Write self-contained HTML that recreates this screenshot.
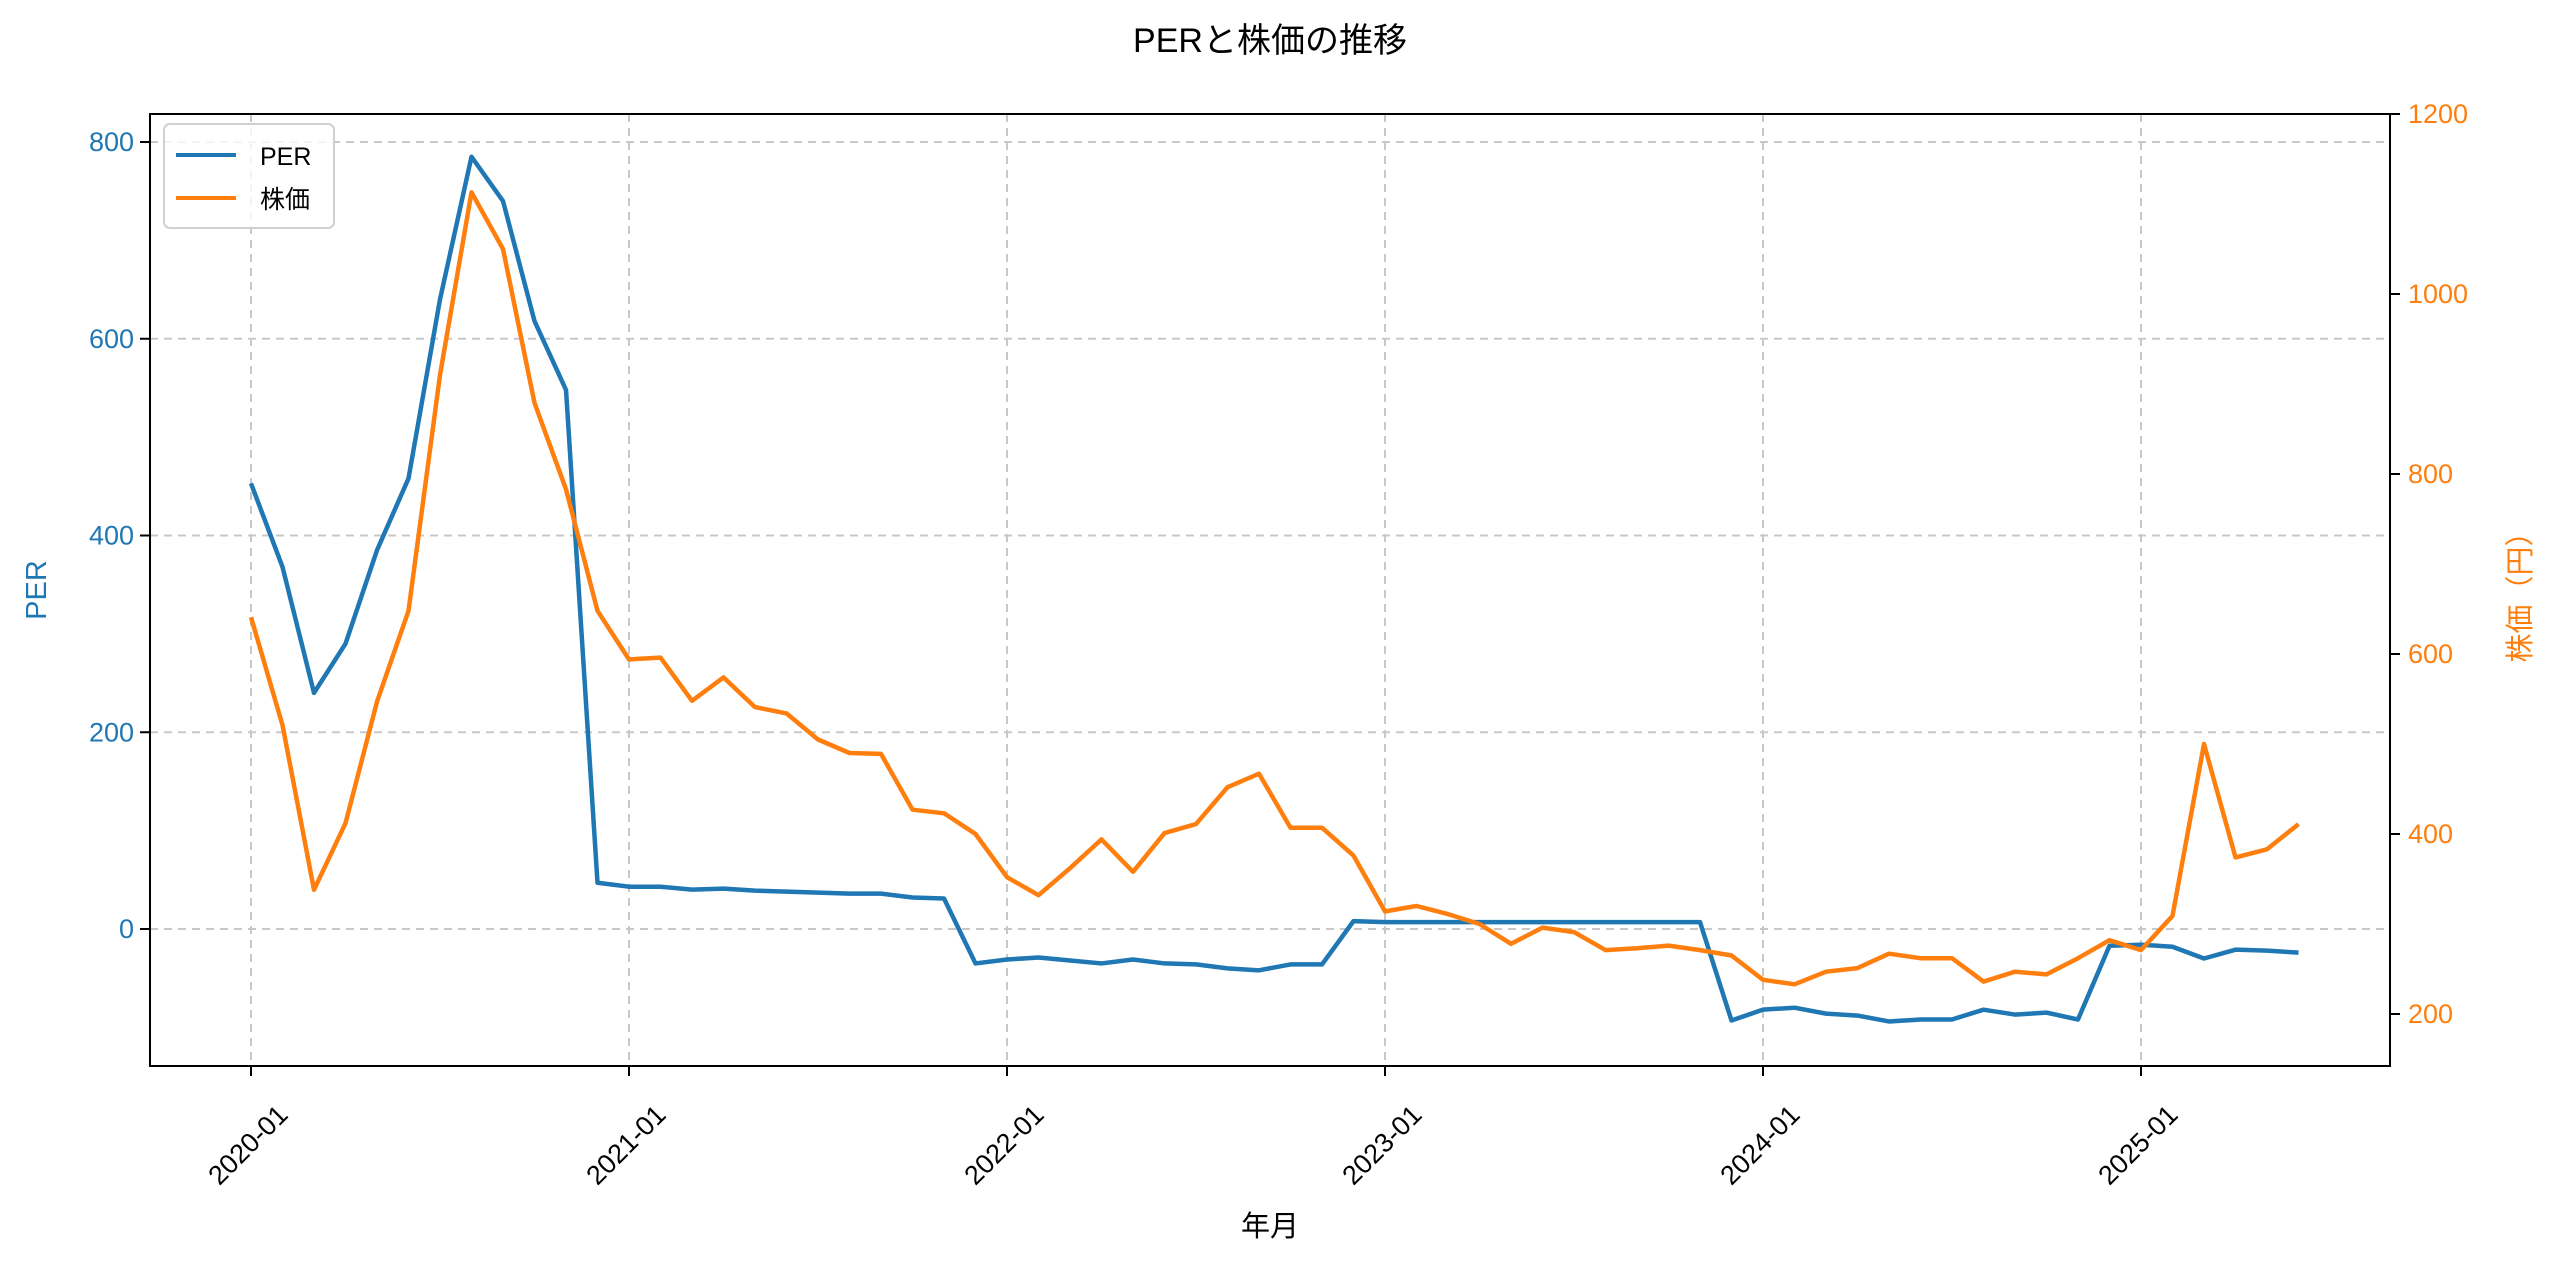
<!DOCTYPE html>
<html><head><meta charset="utf-8"><style>
html,body{margin:0;padding:0;background:#fff;}
svg text{font-family:"Liberation Sans","Noto Sans CJK JP",sans-serif;}
</style></head><body>
<svg id="chart" width="2560" height="1269" viewBox="0 0 2560 1269" xmlns="http://www.w3.org/2000/svg">
<rect x="0" y="0" width="2560" height="1269" fill="#fff"/>
<text x="1270" y="52" font-size="34" text-anchor="middle">PERと株価の推移</text>
<g id="grid"></g>
<g id="series"></g>
<rect x="150" y="114" width="2240" height="952" fill="none" stroke="#000" stroke-width="2"/>
<g id="axes"></g>
<text x="1270" y="1236" font-size="29" text-anchor="middle">年月</text>
<text transform="translate(46,590) rotate(-90)" font-size="29" text-anchor="middle" fill="#1f77b4">PER</text>
<text transform="translate(2530,590) rotate(-90)" font-size="29" text-anchor="middle" fill="#ff7f0e">株価（円）</text>
<g>
<rect x="164" y="124" width="170" height="104" rx="6" fill="#fff" fill-opacity="0.8" stroke="#d0d0d0" stroke-width="2"/>
<line x1="176" y1="155" x2="236" y2="155" stroke="#1f77b4" stroke-width="4"/>
<text x="260" y="165" font-size="25">PER</text>
<line x1="176" y1="198" x2="236" y2="198" stroke="#ff7f0e" stroke-width="4"/>
<text x="260" y="208" font-size="25">株価</text>
</g>
</svg>
<script>
const perValues = [453,368,240,290,385,458,640,785,740,618,548,47,
 43,43,40,41,39,38,37,36,36,32,31,-35,
 -31,-29,-32,-35,-31,-35,-36,-40,-42,-36,-36,8,
 7,7,7,7,7,7,7,7,7,7,7,-93,
 -82,-80,-86,-88,-94,-92,-92,-82,-87,-85,-92,-17,
 -16,-18,-30,-21,-22,-24];
const priceValues = [641,521,338,412,547,648,910,1113,1050,879,783,648,
 594,596,548,574,541,534,505,490,489,427,423,400,
 352,332,362,394,358,401,411,452,467,407,407,376,
 314,320,311,300,278,296,291,271,273,276,271,265,
 238,233,247,251,267,262,262,236,247,244,262,282,
 271,309,500,374,383,411];
const xTickLabels = ["2020-01","2021-01","2022-01","2023-01","2024-01","2025-01"];
const leftTicks = [0,200,400,600,800];
const rightTicks = [200,400,600,800,1000,1200];

const NS="http://www.w3.org/2000/svg";
const L=150,R=2390,T=114,B=1066;
const xMonth=i=>251+i*31.5;
const yLeft=v=>929-(v*(929-142)/800);
const yRight=v=>1014-((v-200)*(1014-114)/1000);
function mk(tag,attrs,parent){const e=document.createElementNS(NS,tag);for(const k in attrs)e.setAttribute(k,attrs[k]);parent.appendChild(e);return e;}
const grid=document.getElementById('grid'),axes=document.getElementById('axes'),series=document.getElementById('series');

xTickLabels.forEach((lab,i)=>{
  const x=xMonth(i*12);
  const g=mk('line',{x1:x,y1:T,x2:x,y2:B,stroke:'#c8c8c8','stroke-width':2,'stroke-dasharray':'8,6'},grid);
  
  
  const t=mk('line',{x1:x,y1:B,x2:x,y2:B+10,stroke:'#000','stroke-width':2},axes);
  
  
  const tx=mk('text',{transform:`translate(${x-3},${1145}) rotate(-45)`,'font-size':27,'text-anchor':'middle','dominant-baseline':'central'},axes);
  tx.textContent=lab;
  
  
});
leftTicks.forEach(v=>{
  const y=yLeft(v);
  const g=mk('line',{x1:L,y1:y,x2:R,y2:y,stroke:'#c8c8c8','stroke-width':2,'stroke-dasharray':'8,6'},grid);
  
  
  const t=mk('line',{x1:L-10,y1:y,x2:L,y2:y,stroke:'#000','stroke-width':2},axes);
  
  
  const tx=mk('text',{x:L-16,y:y+9,'font-size':27,'text-anchor':'end',fill:'#1f77b4'},axes);
  tx.textContent=v;
  
  
});
rightTicks.forEach(v=>{
  const y=yRight(v);
  const t=mk('line',{x1:R,y1:y,x2:R+10,y2:y,stroke:'#000','stroke-width':2},axes);
  
  
  const tx=mk('text',{x:R+18,y:y+9,'font-size':27,'text-anchor':'start',fill:'#ff7f0e'},axes);
  tx.textContent=v;
  
  
});
const perPath=mk('polyline',{points:perValues.map((v,i)=>xMonth(i)+','+yLeft(v)).join(' '),fill:'none',stroke:'#1f77b4','stroke-width':4.5,'stroke-linejoin':'round'},series);


const pricePath=mk('polyline',{points:priceValues.map((v,i)=>xMonth(i)+','+yRight(v)).join(' '),fill:'none',stroke:'#ff7f0e','stroke-width':4.5,'stroke-linejoin':'round'},series);


</script>
</body></html>
